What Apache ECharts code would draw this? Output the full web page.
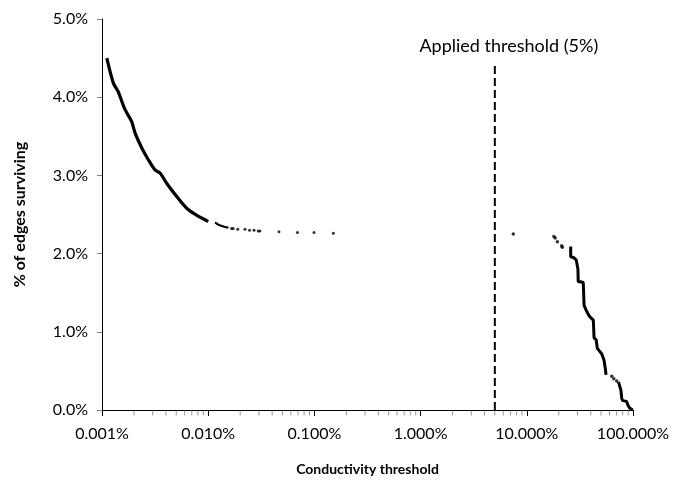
<!DOCTYPE html>
<html>
<head>
<meta charset="utf-8">
<script src="https://cdn.jsdelivr.net/npm/echarts@6/dist/echarts.min.js"></script>
<style>
html,body{margin:0;padding:0;background:#fff;}
#chart{width:673px;height:488px;}
</style>
</head>
<body>
<div id="chart"></div>
<script>
// Conductivity threshold (%) vs % of edges surviving (%)
var leftCurve = [
  [0.00111,4.50],[0.00128,4.18],[0.00142,4.07],[0.00165,3.84],[0.00190,3.69],
  [0.00205,3.54],[0.00237,3.35],[0.00273,3.20],[0.00316,3.07],[0.00352,3.03],
  [0.00406,2.90],[0.00505,2.73],[0.00627,2.58],[0.00780,2.49],[0.00970,2.42],[0.01000,2.41]
];
var leftTail = [[0.0116,2.40],[0.0125,2.37],[0.0144,2.34],[0.0155,2.33]];
var leftDots = [
  [0.0166,2.32],[0.0172,2.32],[0.0190,2.31],[0.0222,2.31],[0.0245,2.30],[0.0270,2.30],
  [0.0296,2.29],[0.0307,2.29],[0.0464,2.28],[0.0692,2.27],[0.0991,2.27],[0.1507,2.26]
];
var rightDots = [[7.46,2.25],[18.0,2.22],[18.5,2.20],[19.4,2.15],[21.3,2.10],[21.6,2.08],[63.1,0.43],[66.0,0.40],[70.3,0.37]];
var rightStepsA = [
  [25.9,2.09],[25.9,1.96],[27.5,1.95],[29.2,1.92],[29.9,1.90],[30.3,1.80],[30.5,1.64],
  [32.0,1.64],[34.0,1.63],[34.3,1.50],[34.6,1.34],[36.1,1.28],[38.0,1.22],[39.3,1.19],
  [42.3,1.15],[42.6,1.05],[43.0,0.92],[45.0,0.90],[46.1,0.79],[48.0,0.76],[50.7,0.72],
  [53.3,0.64],[55.0,0.52],[55.7,0.45]
];
var rightStepsB = [
  [73.0,0.36],[75.5,0.34],[77.0,0.25],[78.3,0.15],[80.0,0.12],[87.1,0.11],[89.0,0.07],[92.3,0.03],[99.4,0.00]
];
var thresholdX = 5;
var thresholdTop = 4.45;
var thresholdLabel = 'Applied threshold (5%)';
var xName = 'Conductivity threshold';
var yName = '% of edges surviving';
// minor tick positions on the log axis: multipliers within each decade
var minorMultipliers = [2,3,4,5,6,7,8,9];
var decades = [0.001,0.01,0.1,1,10];

var minorTicks = [];
decades.forEach(function(d){ minorMultipliers.forEach(function(m){ minorTicks.push([d*m, 0]); }); });

var chart = echarts.init(document.getElementById('chart'), null, {renderer:'canvas'});
var font = 'Lato';
function lineSeries(data, w, smooth){
  return {type:'line', data:data, showSymbol:false, symbol:'none', smooth:smooth||false,
    lineStyle:{color:'#000', width:w}, silent:true, z:3};
}
chart.setOption({
  animation:false,
  backgroundColor:'#fff',
  grid:{left:102, right:40, top:19, bottom:78, containLabel:false},
  xAxis:{
    type:'log', logBase:10, min:0.001, max:100,
    name:xName, nameLocation:'middle', nameGap:52,
    nameTextStyle:{fontFamily:font, fontWeight:'bold', fontSize:14, color:'#000'},
    axisLine:{show:true, lineStyle:{color:'#000', width:1}},
    axisTick:{show:true, inside:false, length:6, lineStyle:{color:'#000'}},
    splitLine:{show:false},
    axisLabel:{fontFamily:font, fontSize:16, color:'#000', margin:16,
      formatter:function(v){return v.toFixed(3)+'%';}}
  },
  yAxis:{
    type:'value', min:0, max:5, interval:1,
    name:yName, nameLocation:'middle', nameGap:74, nameRotate:90,
    nameTextStyle:{fontFamily:font, fontWeight:'bold', fontSize:16, color:'#000'},
    axisLine:{show:true, lineStyle:{color:'#000', width:1}},
    axisTick:{show:true, inside:false, length:5, lineStyle:{color:'#808080'}},
    splitLine:{show:false},
    axisLabel:{fontFamily:font, fontSize:16, color:'#000', margin:14,
      formatter:function(v){return v.toFixed(1)+'%';}}
  },
  series:[
    {type:'scatter', silent:true, clip:false, data:minorTicks, z:1,
      symbol:'rect', symbolSize:[1,5], symbolOffset:[0,3], itemStyle:{color:'#808080'}},
    lineSeries(leftCurve, 3.2, 0.3),
    lineSeries(leftTail, 2.2, 0.3),
    {type:'scatter', data:leftDots, symbol:'circle', symbolSize:3, itemStyle:{color:'#000'}, silent:true},
    {type:'scatter', data:rightDots, symbol:'circle', symbolSize:3.5, itemStyle:{color:'#000'}, silent:true},
    lineSeries(rightStepsA, 3),
    lineSeries(rightStepsB, 3),
    {type:'line', silent:true, showSymbol:true, symbol:'circle', symbolSize:0,
      lineStyle:{color:'#000', width:2, type:[8,4]},
      data:[[thresholdX,0], {value:[thresholdX,thresholdTop],
        label:{show:true, position:'top', distance:7, offset:[14,0], formatter:thresholdLabel,
          fontFamily:font, fontSize:18, color:'#000'}}]}
  ]
});
</script>
</body>
</html>
